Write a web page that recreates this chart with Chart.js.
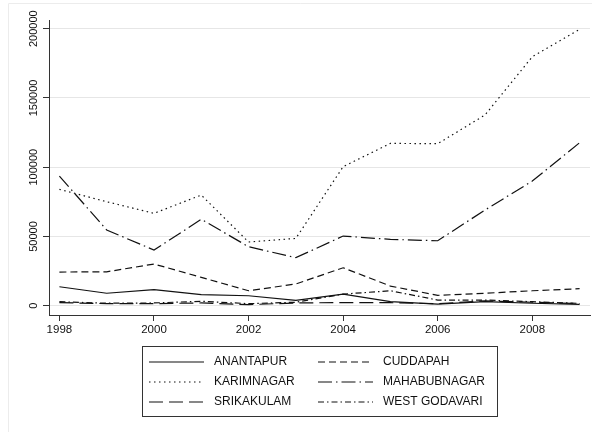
<!DOCTYPE html>
<html>
<head>
<meta charset="utf-8">
<script src="https://cdn.jsdelivr.net/npm/chart.js@4/dist/chart.umd.min.js"></script>
<style>
  html, body { margin: 0; padding: 0; background: #fff; }
  #wrap { width: 592px; height: 432px; position: relative; }
</style>
</head>
<body>
<div id="wrap"><canvas id="c" width="592" height="432"></canvas></div>
<script>
const years = [1998, 1999, 2000, 2001, 2002, 2003, 2004, 2005, 2006, 2007, 2008, 2009];
const xTicks = [1998, 2000, 2002, 2004, 2006, 2008];
const yTicks = [0, 50000, 100000, 150000, 200000];

const anantapur    = [13700, 9000, 11600, 8000, 7200, 3900, 8400, 2900, 1200, 2900, 1800, 1000];
const cuddapah     = [24300, 24500, 30100, 20500, 10800, 15700, 27400, 14200, 7500, 9000, 10800, 12300];
const karimnagar   = [84000, 75100, 66700, 79900, 46000, 48600, 100400, 117200, 117000, 137700, 179800, 199600];
const mahabubnagar = [93600, 54700, 40200, 62400, 42600, 34700, 50300, 47900, 46900, 69100, 90000, 117700];
const srikakulam   = [2200, 1500, 1500, 2000, 800, 2000, 2300, 2200, 1500, 3500, 2500, 1500];
const westGodavari = [2900, 1800, 2000, 3200, 1500, 2500, 8400, 10800, 4100, 4100, 2900, 1700];

const FONT = '"Liberation Sans", Arial, Helvetica, sans-serif';
const INK = '#111';

function series(label, values, dash) {
  return {
    label: label,
    data: years.map((y, i) => ({ x: y, y: values[i] })),
    borderColor: INK,
    borderWidth: 1.2,
    borderDash: dash,
    pointRadius: 0,
    tension: 0,
    fill: false
  };
}

// order as it appears in the legend (two columns, row by row)
const datasets = [
  series('ANANTAPUR', anantapur, []),
  series('CUDDAPAH', cuddapah, [7, 4]),
  series('KARIMNAGAR', karimnagar, [1.5, 3.5]),
  series('MAHABUBNAGAR', mahabubnagar, [14, 4, 1.5, 4]),
  series('SRIKAKULAM', srikakulam, [14, 6]),
  series('WEST GODAVARI', westGodavari, [6, 3, 1.5, 3])
];

const stataDecor = {
  id: 'stataDecor',
  beforeDraw(chart) {
    const ctx = chart.ctx;
    ctx.save();
    // faint outer region line
    ctx.strokeStyle = '#ececec';
    ctx.lineWidth = 1;
    ctx.beginPath();
    ctx.moveTo(8.5, 432);
    ctx.lineTo(8.5, 3.5);
    ctx.lineTo(592, 3.5);
    ctx.stroke();
    ctx.restore();
  },
  afterDraw(chart) {
    const ctx = chart.ctx;
    const yScale = chart.scales.y;
    ctx.save();

    // rotated y tick labels
    ctx.fillStyle = INK;
    ctx.font = '11px ' + FONT;
    ctx.textAlign = 'center';
    ctx.textBaseline = 'middle';
    yTicks.forEach(v => {
      const py = yScale.getPixelForValue(v);
      ctx.save();
      ctx.translate(34, py);
      ctx.rotate(-Math.PI / 2);
      ctx.fillText(String(v), 0, 0);
      ctx.restore();
    });

    // legend box
    const bx = 142.5, by = 346.5, bw = 355, bh = 70;
    ctx.strokeStyle = '#333';
    ctx.lineWidth = 1;
    ctx.strokeRect(bx, by, bw, bh);

    const rowY = [362, 382, 402];
    const colX = [149, 318];
    ctx.font = '12px ' + FONT;
    ctx.textAlign = 'left';
    ctx.textBaseline = 'middle';
    chart.data.datasets.forEach((ds, i) => {
      const col = i % 2, row = Math.floor(i / 2);
      const x0 = colX[col], y0 = rowY[row];
      ctx.strokeStyle = INK;
      ctx.lineWidth = 1.2;
      ctx.setLineDash(ds.borderDash);
      ctx.beginPath();
      ctx.moveTo(x0, y0);
      ctx.lineTo(x0 + 55, y0);
      ctx.stroke();
      ctx.setLineDash([]);
      ctx.fillStyle = INK;
      ctx.fillText(ds.label, x0 + 65, y0);
    });
    ctx.restore();
  }
};

new Chart(document.getElementById('c'), {
  type: 'line',
  data: { datasets: datasets },
  options: {
    responsive: false,
    animation: false,
    devicePixelRatio: 1,
    layout: { padding: { left: 0, right: 2, top: 20, bottom: 0 } },
    plugins: {
      legend: { display: false },
      tooltip: { enabled: false }
    },
    scales: {
      x: {
        type: 'linear',
        min: 1997.78,
        max: 2009.22,
        afterBuildTicks: s => { s.ticks = xTicks.map(v => ({ value: v })); },
        afterFit: s => { s.height = 117; },
        grid: { drawOnChartArea: false, drawTicks: true, tickLength: 6, tickColor: '#333' },
        border: { color: '#333', width: 1 },
        ticks: {
          color: INK,
          font: { family: FONT, size: 11.5 },
          padding: 2,
          maxRotation: 0,
          callback: v => String(v)
        }
      },
      y: {
        type: 'linear',
        min: -6700,
        max: 206300,
        afterBuildTicks: s => { s.ticks = yTicks.map(v => ({ value: v })); },
        afterFit: s => { s.width = 49; },
        grid: { color: '#e6e6e6', lineWidth: 1, drawTicks: true, tickLength: 6, tickColor: '#333' },
        border: { color: '#333', width: 1 },
        ticks: { display: false }
      }
    }
  },
  plugins: [stataDecor]
});
</script>
</body>
</html>
